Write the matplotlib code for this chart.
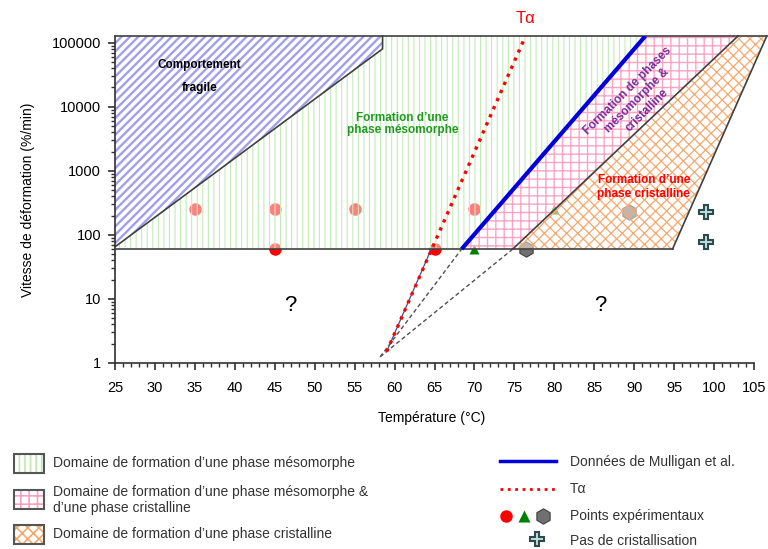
import numpy as np
import matplotlib as mpl
import matplotlib.pyplot as plt
from matplotlib.patches import Polygon, Rectangle
from matplotlib.ticker import FixedLocator, NullFormatter

plt.rcParams['font.family'] = ['Liberation Sans', 'DejaVu Sans']
plt.rcParams['hatch.linewidth'] = 1.2

# --- data ---
YTOP = 1.27e5          # top edge of the domains
Y_LOW = 60             # lower limit of the domains
# domain boundaries (temperature, strain rate)
fragile_pts = [(25, 65), (25, YTOP), (58.5, YTOP), (58.5, 80000)]
meso_pts = [(25, Y_LOW), (25, 65), (58.5, 80000), (58.5, YTOP), (91.4, YTOP), (68.4, Y_LOW)]
mixed_pts = [(68.4, Y_LOW), (91.4, YTOP), (103.0, YTOP), (74.8, Y_LOW)]
cryst_pts = [(74.8, Y_LOW), (103.0, YTOP), (106.6, YTOP), (94.8, Y_LOW)]

mulligan_x = [68.4, 91.4]
mulligan_y = [Y_LOW, YTOP]
talpha_x = [59.0, 76.4]
talpha_y = [1.5, YTOP]
under_x = [59.0, 64.6]
under_y = [1.5, Y_LOW]
dash_x = [58.2, 68.4, 58.2, 74.8]
dash_y = [1.25, Y_LOW, 1.25, Y_LOW]

red_x = [35, 45, 55, 70, 45, 65]
red_y = [250, 250, 250, 250, 60, 60]
green_x = [70, 80]
green_y = [60, 250]
grey_x = [76.4, 89.3]
grey_y = [60, 231]
nocryst_x = [99, 99]
nocryst_y = [225, 78]

yticks = [1, 10, 100, 1000, 10000, 100000]
ytick_labels = ['1', '10', '100', '1000', '10000', '100000']
xticks = list(range(25, 106, 5))

W, H = 768, 549
fig = plt.figure(figsize=(W / 100, H / 100), dpi=100)
ax = fig.add_axes([115 / W, 1 - 363 / H, (754 - 115) / W, (363 - 36) / H])
ax.set_yscale('log')
ax.set_xlim(25, 105)
ax.set_ylim(1, YTOP)

# experimental points (drawn under the translucent domains)
ax.plot(red_x, red_y, 'o', color='#ff0000', ms=9, mec='none', zorder=1)
ax.plot(green_x, green_y, '^', color='#008000', ms=7, mec='none', zorder=1)
ax.plot(grey_x, grey_y, 'h', color='#707070', ms=11, mec='#404040', mew=0.8, zorder=1)

def domain(pts, hatch, color, hlw):
    ax.add_patch(Polygon(pts, closed=True, facecolor=(1, 1, 1, 0.5), edgecolor='none',
                         zorder=2, clip_on=False))
    with mpl.rc_context({'hatch.linewidth': hlw}):
        p = Polygon(pts, closed=True, facecolor='none', edgecolor=color, lw=0,
                    hatch=hatch, zorder=2, clip_on=False)
    if hasattr(p, 'set_hatch_linewidth'):
        p.set_hatch_linewidth(hlw)
    ax.add_patch(p)

domain(fragile_pts, '////', '#a0a0ea', 1.7)
domain(meso_pts, '|||', '#c4eab8', 0.8)
domain(mixed_pts, '++', '#ffa3c4', 1.0)
domain(cryst_pts, 'xxx', '#f7a86e', 0.9)

# boundaries
edge = dict(color='#404040', lw=1.2, zorder=3, clip_on=False)
ax.plot([25, 94.8], [Y_LOW, Y_LOW], **edge)
ax.plot([25, 106.6], [YTOP, YTOP], **edge)
ax.plot([25, 58.5, 58.5], [65, 80000, YTOP], **edge)
ax.plot([74.8, 103.0], [Y_LOW, YTOP], **edge)
ax.plot([94.8, 106.6], [Y_LOW, YTOP], **edge)

ax.plot(dash_x[:2], dash_y[:2], ls=(0, (3, 2)), color='#505050', lw=1, zorder=3)
ax.plot(dash_x[2:], dash_y[2:], ls=(0, (3, 2)), color='#505050', lw=1, zorder=3)
ax.plot(under_x, under_y, color='#4a4aa0', lw=0.9, zorder=3)
ax.plot(mulligan_x, mulligan_y, color='#0000dd', lw=3, zorder=4, solid_capstyle='butt')
ax.plot(talpha_x, talpha_y, ls=':', color='#ff0000', lw=2.4, zorder=4)
ax.text(talpha_x[1], 2.4e5, 'Tα', color='#ff0000', fontsize=12, ha='center', va='center',
        clip_on=False)

ax.plot(nocryst_x, nocryst_y, 'P', color='#bfe0e0', ms=10, mec='#2f4a4a', mew=1.5, zorder=5)

# region labels
ax.text(35.6, 4.5e4, 'Comportement', fontsize=8.5, fontweight='bold', ha='center', va='center', zorder=6)
ax.text(35.6, 1.95e4, 'fragile', fontsize=8.5, fontweight='bold', ha='center', va='center', zorder=6)
ax.text(61.0, 5400, 'Formation d’une\nphase mésomorphe', fontsize=8.5, fontweight='bold',
        color='#1f9a1f', ha='center', va='center', linespacing=1.05, zorder=6)
ax.text(90.4, 12500, 'Formation de phases\nmésomorphe &\ncristalline', fontsize=8.5,
        fontweight='bold', color='#7a2a9a', ha='center', va='center', rotation=45,
        rotation_mode='anchor', linespacing=1.15, zorder=6)
ax.text(91.2, 560, 'Formation d’une\nphase cristalline', fontsize=8.5, fontweight='bold',
        color='#ff0000', ha='center', va='center', linespacing=1.15, zorder=6)
ax.text(46.9, 8, '?', fontsize=16, ha='center', va='center')
ax.text(85.8, 8, '?', fontsize=16, ha='center', va='center')

# axes
for s in ['top', 'right']:
    ax.spines[s].set_visible(False)
for s in ['left', 'bottom']:
    ax.spines[s].set_color('#303030')
    ax.spines[s].set_linewidth(1.2)
ax.set_xticks(xticks)
ax.xaxis.set_minor_locator(FixedLocator(np.arange(25, 106, 1)))
ax.yaxis.set_major_locator(FixedLocator(yticks))
ax.set_yticklabels(ytick_labels)
ax.yaxis.set_minor_locator(FixedLocator([m * 10 ** e for e in range(0, 5) for m in range(2, 10)]))
ax.yaxis.set_minor_formatter(NullFormatter())
ax.tick_params(which='major', direction='out', length=5, width=1.2, labelsize=10.5, pad=5,
               color='#303030')
ax.tick_params(which='minor', direction='out', length=3, width=1, color='#303030')
ax.tick_params(axis='x', pad=8)
ax.set_xlabel('Température (°C)', fontsize=10)
ax.set_ylabel('Vitesse de déformation (%/min)', fontsize=10)
ax.xaxis.set_label_coords((432 - 115) / (754 - 115), -(411 - 363) / (363 - 36))
ax.yaxis.set_label_coords(-(115 - 35) / (754 - 115), 0.5)

# legend drawn in pixel coordinates
lg = fig.add_axes([0, 0, 1, 1], zorder=-1)
lg.set_xlim(0, W)
lg.set_ylim(H, 0)
lg.axis('off')
txt = dict(fontsize=10, color='#333333', va='center')
boxes = [(454, '|||', '#bfe8b0'), (490, '++', '#ff9fc0'), (525, 'xxx', '#f6a66a')]
for y0, h, c in boxes:
    lg.add_patch(Rectangle((14, y0), 30, 19, facecolor='white', edgecolor=c, lw=0, hatch=h))
    lg.add_patch(Rectangle((14, y0), 30, 19, facecolor='none', edgecolor='#555555', lw=1.5))
lg.text(53, 463, 'Domaine de formation d’une phase mésomorphe', **txt)
lg.text(53, 500, 'Domaine de formation d’une phase mésomorphe &\nd’une phase cristalline',
        linespacing=1.1, **txt)
lg.text(53, 534, 'Domaine de formation d’une phase cristalline', **txt)

lg.plot([500, 556], [461, 461], color='#0000dd', lw=2.5)
lg.plot([500, 556], [489, 489], color='#ff0000', ls=':', lw=2)
lg.plot([506], [516], 'o', color='#ff0000', ms=9, mec='none')
lg.plot([524], [516], '^', color='#008000', ms=9, mec='none')
lg.plot([543], [516], 'h', color='#707070', ms=11, mec='#404040', mew=0.8)
lg.plot([537], [539], 'P', color='#bfe0e0', ms=10, mec='#2f4a4a', mew=1.5)
lg.text(570, 462, 'Données de Mulligan et al.', **txt)
lg.text(570, 489, 'Tα', **txt)
lg.text(570, 516, 'Points expérimentaux', **txt)
lg.text(570, 541, 'Pas de cristallisation', **txt)

fig.savefig('out.png', dpi=100)
